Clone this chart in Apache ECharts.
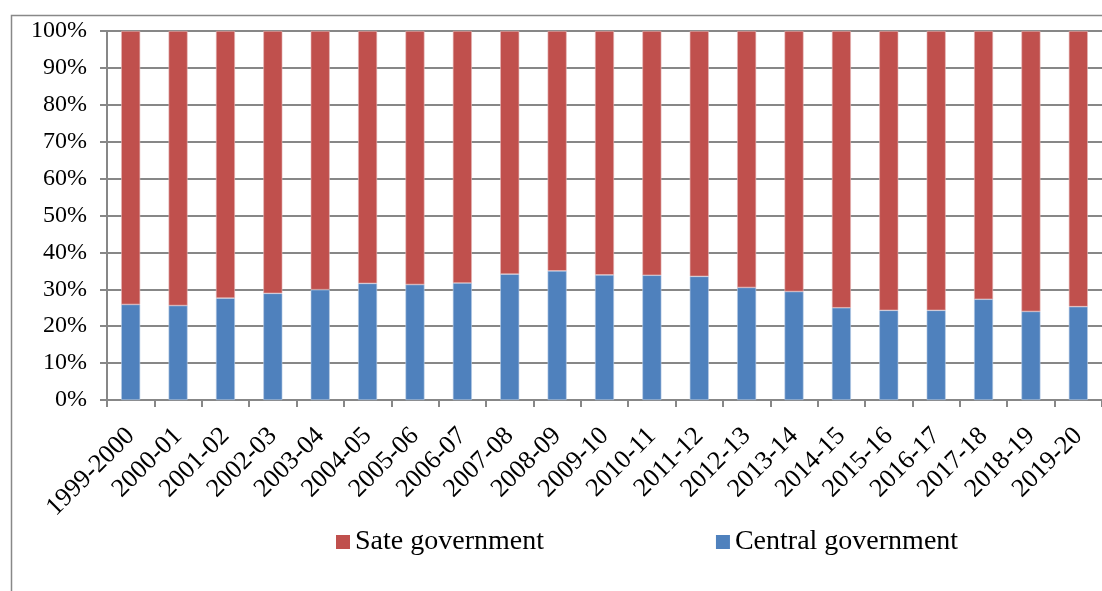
<!DOCTYPE html>
<html>
<head>
<meta charset="utf-8">
<script src="https://cdn.jsdelivr.net/npm/echarts@6/dist/echarts.min.js"></script>
<style>
html,body{margin:0;padding:0;background:#fff;}
#c{width:1102px;height:591px;}
</style>
</head>
<body>
<div id="c"></div>
<script>
const categories = ['1999-2000','2000-01','2001-02','2002-03','2003-04','2004-05','2005-06','2006-07','2007-08','2008-09','2009-10','2010-11','2011-12','2012-13','2013-14','2014-15','2015-16','2016-17','2017-18','2018-19','2019-20'];
const centralShare = [25.9, 25.6, 27.6, 28.9, 29.9, 31.6, 31.3, 31.7, 34.1, 35.0, 33.9, 33.8, 33.5, 30.5, 29.4, 25.0, 24.3, 24.3, 27.3, 24.0, 25.3];
const stateShare = [74.1, 74.4, 72.4, 71.1, 70.1, 68.4, 68.7, 68.3, 65.9, 65.0, 66.1, 66.2, 66.5, 69.5, 70.6, 75.0, 75.7, 75.7, 72.7, 76.0, 74.7];
const seriesNames = ['Sate government', 'Central government'];

const FONT = '"Liberation Serif", "Times New Roman", serif';
const chart = echarts.init(document.getElementById('c'), null, {renderer: 'canvas'});
chart.setOption({
  animation: false,
  backgroundColor: '#fff',
  graphic: [{
    type: 'rect', left: 9, top: 13, z: -1,
    shape: {x: 0, y: 0, width: 1120, height: 620},
    style: {fill: 'none', stroke: '#888', lineWidth: 1.5}
  }],
  legend: {
    data: seriesNames,
    left: 331, top: 523,
    itemWidth: 14, itemHeight: 14, itemGap: 172,
    icon: 'rect',
    itemStyle: {borderWidth: 0},
    textStyle: {fontFamily: FONT, fontSize: 28, color: '#000'}
  },
  grid: {left: 107, top: 31, width: 999, height: 369, containLabel: false},
  xAxis: {
    type: 'category',
    data: categories,
    axisLine: {lineStyle: {color: '#878787', width: 2}},
    axisTick: {show: true, length: 7, lineStyle: {color: '#878787', width: 2}},
    axisLabel: {interval: 0, rotate: 45, margin: 32, fontFamily: FONT, fontSize: 26, color: '#000'}
  },
  yAxis: {
    type: 'value', min: 0, max: 100, interval: 10,
    axisLine: {show: true, lineStyle: {color: '#878787', width: 2}},
    axisTick: {show: true, length: 7, lineStyle: {color: '#878787', width: 2}},
    splitLine: {lineStyle: {color: '#878787', width: 2}},
    axisLabel: {formatter: '{value}%', margin: 20, fontFamily: FONT, fontSize: 24, color: '#000'}
  },
  series: [
    {
      name: seriesNames[1], type: 'bar', stack: 'total', data: centralShare,
      barWidth: 19,
      itemStyle: {color: '#4F81BD', borderColor: '#b9cde5', borderWidth: 0.6}
    },
    {
      name: seriesNames[0], type: 'bar', stack: 'total', data: stateShare,
      barWidth: 19,
      itemStyle: {color: '#C0504D', borderColor: '#e6b9b8', borderWidth: 0.6}
    }
  ]
});
</script>
</body>
</html>
